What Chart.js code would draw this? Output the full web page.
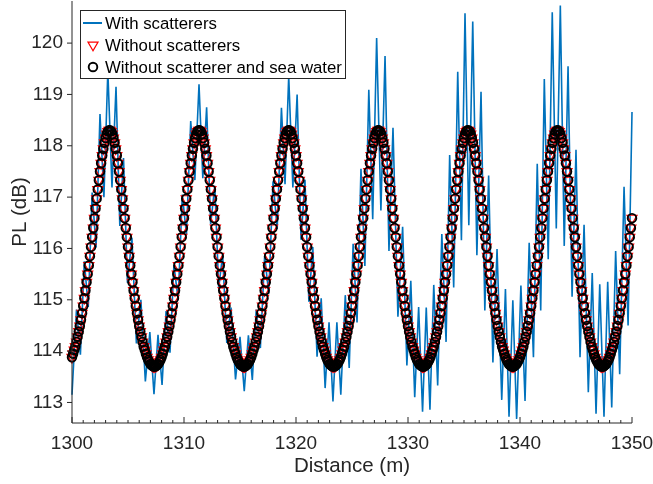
<!DOCTYPE html>
<html>
<head>
<meta charset="utf-8">
<title>PL vs distance</title>
<script src="https://cdn.jsdelivr.net/npm/chart.js@4.4.1/dist/chart.umd.min.js"></script>
<style>
  html, body { margin: 0; padding: 0; background: #ffffff; }
  #wrap { width: 653px; height: 484px; }
</style>
</head>
<body>
<div id="wrap"><canvas id="pl" width="653" height="484"></canvas></div>
<script>
// sampling grid of the two model curves (m)
const distStart = 1300
const distStep = 0.1

// path loss without scatterers (dB), one row per metre, 1300.0 ... 1350.0
const plNoScat = [
  113.88, 113.95, 114.02, 114.09, 114.18, 114.28, 114.38, 114.49, 114.61, 114.74, // 1300
  114.88, 115.03, 115.18, 115.34, 115.50, 115.67, 115.85, 116.03, 116.22, 116.40,
  116.59, 116.78, 116.97, 117.15, 117.33, 117.50, 117.66, 117.81, 117.94, 118.06,
  118.15, 118.23, 118.28, 118.30, 118.30, 118.28, 118.23, 118.15, 118.06, 117.94,
  117.81, 117.66, 117.50, 117.33, 117.15, 116.97, 116.78, 116.59, 116.40, 116.22,
  116.03, 115.85, 115.67, 115.50, 115.34, 115.18, 115.03, 114.88, 114.74, 114.61,
  114.49, 114.38, 114.28, 114.18, 114.09, 114.02, 113.95, 113.88, 113.83, 113.79,
  113.75, 113.73, 113.71, 113.70, 113.70, 113.71, 113.73, 113.75, 113.79, 113.83,
  113.88, 113.95, 114.02, 114.09, 114.18, 114.28, 114.38, 114.49, 114.61, 114.74, // 1308
  114.88, 115.03, 115.18, 115.34, 115.50, 115.67, 115.85, 116.03, 116.22, 116.40,
  116.59, 116.78, 116.97, 117.15, 117.33, 117.50, 117.66, 117.81, 117.94, 118.06,
  118.15, 118.23, 118.28, 118.30, 118.30, 118.28, 118.23, 118.15, 118.06, 117.94,
  117.81, 117.66, 117.50, 117.33, 117.15, 116.97, 116.78, 116.59, 116.40, 116.22,
  116.03, 115.85, 115.67, 115.50, 115.34, 115.18, 115.03, 114.88, 114.74, 114.61,
  114.49, 114.38, 114.28, 114.18, 114.09, 114.02, 113.95, 113.88, 113.83, 113.79,
  113.75, 113.73, 113.71, 113.70, 113.70, 113.71, 113.73, 113.75, 113.79, 113.83,
  113.88, 113.95, 114.02, 114.09, 114.18, 114.28, 114.38, 114.49, 114.61, 114.74, // 1316
  114.88, 115.03, 115.18, 115.34, 115.50, 115.67, 115.85, 116.03, 116.22, 116.40,
  116.59, 116.78, 116.97, 117.15, 117.33, 117.50, 117.66, 117.81, 117.94, 118.06,
  118.15, 118.23, 118.28, 118.30, 118.30, 118.28, 118.23, 118.15, 118.06, 117.94,
  117.81, 117.66, 117.50, 117.33, 117.15, 116.97, 116.78, 116.59, 116.40, 116.22,
  116.03, 115.85, 115.67, 115.50, 115.34, 115.18, 115.03, 114.88, 114.74, 114.61,
  114.49, 114.38, 114.28, 114.18, 114.09, 114.02, 113.95, 113.88, 113.83, 113.79,
  113.75, 113.73, 113.71, 113.70, 113.70, 113.71, 113.73, 113.75, 113.79, 113.83,
  113.88, 113.95, 114.02, 114.09, 114.18, 114.28, 114.38, 114.49, 114.61, 114.74, // 1324
  114.88, 115.03, 115.18, 115.34, 115.50, 115.67, 115.85, 116.03, 116.22, 116.40,
  116.59, 116.78, 116.97, 117.15, 117.33, 117.50, 117.66, 117.81, 117.94, 118.06,
  118.15, 118.23, 118.28, 118.30, 118.30, 118.28, 118.23, 118.15, 118.06, 117.94,
  117.81, 117.66, 117.50, 117.33, 117.15, 116.97, 116.78, 116.59, 116.40, 116.22,
  116.03, 115.85, 115.67, 115.50, 115.34, 115.18, 115.03, 114.88, 114.74, 114.61,
  114.49, 114.38, 114.28, 114.18, 114.09, 114.02, 113.95, 113.88, 113.83, 113.79,
  113.75, 113.73, 113.71, 113.70, 113.70, 113.71, 113.73, 113.75, 113.79, 113.83,
  113.88, 113.95, 114.02, 114.09, 114.18, 114.28, 114.38, 114.49, 114.61, 114.74, // 1332
  114.88, 115.03, 115.18, 115.34, 115.50, 115.67, 115.85, 116.03, 116.22, 116.40,
  116.59, 116.78, 116.97, 117.15, 117.33, 117.50, 117.66, 117.81, 117.94, 118.06,
  118.15, 118.23, 118.28, 118.30, 118.30, 118.28, 118.23, 118.15, 118.06, 117.94,
  117.81, 117.66, 117.50, 117.33, 117.15, 116.97, 116.78, 116.59, 116.40, 116.22,
  116.03, 115.85, 115.67, 115.50, 115.34, 115.18, 115.03, 114.88, 114.74, 114.61,
  114.49, 114.38, 114.28, 114.18, 114.09, 114.02, 113.95, 113.88, 113.83, 113.79,
  113.75, 113.73, 113.71, 113.70, 113.70, 113.71, 113.73, 113.75, 113.79, 113.83,
  113.88, 113.95, 114.02, 114.09, 114.18, 114.28, 114.38, 114.49, 114.61, 114.74, // 1340
  114.88, 115.03, 115.18, 115.34, 115.50, 115.67, 115.85, 116.03, 116.22, 116.40,
  116.59, 116.78, 116.97, 117.15, 117.33, 117.50, 117.66, 117.81, 117.94, 118.06,
  118.15, 118.23, 118.28, 118.30, 118.30, 118.28, 118.23, 118.15, 118.06, 117.94,
  117.81, 117.66, 117.50, 117.33, 117.15, 116.97, 116.78, 116.59, 116.40, 116.22,
  116.03, 115.85, 115.67, 115.50, 115.34, 115.18, 115.03, 114.88, 114.74, 114.61,
  114.49, 114.38, 114.28, 114.18, 114.09, 114.02, 113.95, 113.88, 113.83, 113.79,
  113.75, 113.73, 113.71, 113.70, 113.70, 113.71, 113.73, 113.75, 113.79, 113.83,
  113.88, 113.95, 114.02, 114.09, 114.18, 114.28, 114.38, 114.49, 114.61, 114.74, // 1348
  114.88, 115.03, 115.18, 115.34, 115.50, 115.67, 115.85, 116.03, 116.22, 116.40,
  116.59, // 1350
]

// without scatterer and sea water: the markers sit on the same values
const plNoWater = plNoScat.slice()

// with scatterers: tops and bottoms of the fast ripple
const scatDist = [
  1300.00, 1300.40, 1300.75, 1301.10, 1301.45, 1301.80, 1302.15, 1302.50, 1302.85, 1303.20,
  1303.57, 1303.93, 1304.27, 1304.60, 1304.95, 1305.35, 1305.75, 1306.15, 1306.55, 1306.95,
  1307.32, 1307.68, 1308.04, 1308.40, 1308.75, 1309.10, 1309.48, 1309.85, 1310.22, 1310.60,
  1310.97, 1311.34, 1311.68, 1312.02, 1312.38, 1312.75, 1313.10, 1313.45, 1313.82, 1314.20,
  1314.60, 1315.00, 1315.38, 1315.75, 1316.10, 1316.45, 1316.82, 1317.20, 1317.57, 1317.95,
  1318.32, 1318.70, 1319.02, 1319.35, 1319.72, 1320.10, 1320.45, 1320.80, 1321.15, 1321.50,
  1321.88, 1322.25, 1322.60, 1322.95, 1323.30, 1323.65, 1324.00, 1324.40, 1324.75, 1325.10,
  1325.45, 1325.80, 1326.15, 1326.50, 1326.85, 1327.20, 1327.58, 1327.95, 1328.30, 1328.66,
  1329.10, 1329.52, 1329.90, 1330.25, 1330.60, 1330.95, 1331.30, 1331.63, 1331.96, 1332.30,
  1332.65, 1333.02, 1333.40, 1333.72, 1334.08, 1334.44, 1334.77, 1335.09, 1335.43, 1335.78,
  1336.15, 1336.52, 1336.86, 1337.20, 1337.58, 1337.95, 1338.37, 1338.70, 1339.02, 1339.36,
  1339.70, 1340.08, 1340.45, 1340.82, 1341.20, 1341.54, 1341.85, 1342.17, 1342.52, 1342.88,
  1343.24, 1343.60, 1343.95, 1344.29, 1344.65, 1345.00, 1345.36, 1345.72, 1346.10, 1346.45,
  1346.79, 1347.12, 1347.50, 1347.83, 1348.19, 1348.54, 1348.90, 1349.29, 1349.65, 1350.00,
]
const scatPL = [
  113.15, 114.81, 113.93, 115.75, 114.86, 117.09, 116.02, 118.62, 117.00, 119.46,
  117.19, 119.15, 116.44, 117.76, 115.33, 116.21, 114.15, 115.00, 113.41, 114.37,
  113.16, 114.32, 113.34, 114.78, 113.97, 115.68, 115.00, 117.05, 116.27, 118.48,
  117.33, 119.20, 117.37, 118.75, 116.47, 117.22, 115.23, 115.88, 114.16, 114.85,
  113.45, 114.28, 113.22, 114.31, 113.44, 114.81, 114.06, 115.85, 115.12, 117.31,
  116.38, 118.74, 117.25, 119.36, 117.19, 119.00, 116.17, 117.34, 114.96, 116.03,
  113.89, 115.03, 113.28, 114.56, 113.02, 114.56, 113.15, 115.09, 113.67, 116.09,
  114.56, 117.55, 115.66, 119.09, 116.57, 120.10, 116.74, 119.75, 115.95, 118.35,
  114.67, 116.42, 113.72, 115.37, 113.10, 114.86, 112.82, 114.85, 112.86, 115.29,
  113.33, 116.28, 114.18, 117.82, 115.24, 119.44, 116.16, 120.58, 116.45, 120.42,
  115.87, 119.05, 114.79, 117.42, 113.78, 115.99, 113.05, 115.21, 112.72, 114.99,
  112.68, 115.28, 113.03, 116.11, 113.88, 117.65, 114.79, 119.30, 115.79, 120.60,
  116.39, 120.73, 116.05, 119.55, 115.06, 117.92, 113.88, 116.46, 113.20, 115.52,
  112.78, 115.30, 112.72, 115.35, 112.90, 115.95, 113.55, 117.20, 114.50, 118.66,
]

const xTicks = [1300, 1310, 1320, 1330, 1340, 1350]
const yTicks = [113, 114, 115, 116, 117, 118, 119, 120]

const FONT = '"Liberation Sans", Arial, Helvetica, sans-serif'
const AXIS_COLOR = '#262626'

function gridPoints(values) {
  return values.map((v, i) => ({ x: distStart + i * distStep, y: v }))
}

function noScalePadding(axis) {
  axis.paddingLeft = 0
  axis.paddingRight = 0
  axis.paddingTop = 0
  axis.paddingBottom = 0
}

function drawMarker(ctx, ds, x, y) {
  const r = ds.pointRadius
  ctx.beginPath()
  if (ds.pointStyle === 'triangle') {
    // pointing down
    ctx.moveTo(x, y + r)
    ctx.lineTo(x - 0.866 * r, y - 0.5 * r)
    ctx.lineTo(x + 0.866 * r, y - 0.5 * r)
    ctx.closePath()
  } else {
    ctx.arc(x, y, r, 0, Math.PI * 2)
  }
  ctx.strokeStyle = ds.pointBorderColor
  ctx.lineWidth = ds.pointBorderWidth
  ctx.stroke()
}

// MATLAB-like axes: left and bottom lines, x ticks inside, y ticks outside
const axesLines = {
  id: 'axesLines',
  afterDatasetsDraw(chart) {
    const { ctx, chartArea: a, scales } = chart
    ctx.save()
    ctx.strokeStyle = AXIS_COLOR
    ctx.lineWidth = 1
    ctx.beginPath()
    ctx.moveTo(a.left, a.top)
    ctx.lineTo(a.left, a.bottom)
    ctx.lineTo(a.right, a.bottom)
    for (let v = 1300; v <= 1350; v++) {
      const px = scales.x.getPixelForValue(v)
      const len = v % 10 === 0 ? 6 : 3
      ctx.moveTo(px, a.bottom)
      ctx.lineTo(px, a.bottom - len)
    }
    yTicks.forEach((v) => {
      const py = scales.y.getPixelForValue(v)
      ctx.moveTo(a.left - 5, py)
      ctx.lineTo(a.left, py)
    })
    ctx.stroke()
    ctx.restore()
  },
}

// boxed legend in the upper left corner of the plot
const legendBox = {
  id: 'legendBox',
  afterDraw(chart) {
    const { ctx, chartArea } = chart
    const sets = chart.data.datasets
    const left = chartArea.left + 8
    const top = chartArea.top + 9
    const rowH = 22
    ctx.save()
    ctx.font = '16.8px ' + FONT
    const textW = Math.max(...sets.map((ds) => ctx.measureText(ds.label).width))
    const w = Math.round(25 + textW + 3)
    const h = rowH * sets.length + 2
    ctx.fillStyle = '#ffffff'
    ctx.fillRect(left, top, w, h)
    ctx.strokeStyle = AXIS_COLOR
    ctx.lineWidth = 1
    ctx.strokeRect(left + 0.5, top + 0.5, w, h)
    sets.forEach((ds, i) => {
      const cy = top + 13 + i * rowH
      if (ds.showLine === false) {
        drawMarker(ctx, ds, left + 13, cy)
      } else {
        ctx.beginPath()
        ctx.moveTo(left + 3, cy)
        ctx.lineTo(left + 22, cy)
        ctx.strokeStyle = ds.borderColor
        ctx.lineWidth = 2
        ctx.stroke()
      }
      ctx.fillStyle = '#000000'
      ctx.textAlign = 'left'
      ctx.textBaseline = 'middle'
      ctx.fillText(ds.label, left + 25, cy + 1)
    })
    ctx.restore()
  },
}

new Chart(document.getElementById('pl'), {
  type: 'line',
  data: {
    datasets: [
      {
        label: 'With scatterers',
        data: scatDist.map((d, i) => ({ x: d, y: scatPL[i] })),
        borderColor: '#0072bd',
        borderWidth: 1.6,
        pointRadius: 0,
        tension: 0,
        clip: false,
        order: 3,
      },
      {
        label: 'Without scatterers',
        data: gridPoints(plNoScat),
        showLine: false,
        pointStyle: 'triangle',
        pointRotation: 180,
        pointRadius: 5.8,
        pointBorderWidth: 1.2,
        pointBorderColor: '#ff0000',
        pointBackgroundColor: 'rgba(0,0,0,0)',
        clip: false,
        order: 2,
      },
      {
        label: 'Without scatterer and sea water',
        data: gridPoints(plNoWater),
        showLine: false,
        pointStyle: 'circle',
        pointRadius: 4.3,
        pointBorderWidth: 1.9,
        pointBorderColor: '#000000',
        pointBackgroundColor: 'rgba(0,0,0,0)',
        clip: false,
        order: 1,
      },
    ],
  },
  options: {
    responsive: false,
    animation: false,
    devicePixelRatio: 1,
    events: [],
    layout: { autoPadding: false, padding: { left: 0, top: 1, right: 21, bottom: 0 } },
    plugins: {
      legend: { display: false },
      tooltip: { enabled: false },
    },
    scales: {
      x: {
        type: 'linear',
        min: 1300,
        max: 1350,
        afterBuildTicks: (axis) => {
          axis.ticks = xTicks.map((v) => ({ value: v }))
        },
        afterFit: (axis) => {
          axis.height = 61
          noScalePadding(axis)
        },
        grid: { display: false, drawTicks: false },
        border: { display: false },
        ticks: {
          color: AXIS_COLOR,
          padding: 9,
          maxRotation: 0,
          font: { family: FONT, size: 19 },
          callback: (v) => String(v),
        },
        title: {
          display: true,
          text: 'Distance (m)',
          color: AXIS_COLOR,
          font: { family: FONT, size: 20.5 },
          padding: { top: 0, bottom: 5 },
        },
      },
      y: {
        type: 'linear',
        min: 112.6,
        max: 120.82,
        afterBuildTicks: (axis) => {
          axis.ticks = yTicks.map((v) => ({ value: v }))
        },
        afterFit: (axis) => {
          axis.width = 72
          noScalePadding(axis)
        },
        grid: { display: false, drawTicks: false },
        border: { display: false },
        ticks: {
          color: AXIS_COLOR,
          padding: 9,
          font: { family: FONT, size: 19 },
          callback: (v) => String(v),
        },
        title: {
          display: true,
          text: 'PL (dB)',
          color: AXIS_COLOR,
          font: { family: FONT, size: 20.5 },
          padding: { top: 8, bottom: 0 },
        },
      },
    },
  },
  plugins: [axesLines, legendBox],
})
</script>
</body>
</html>
